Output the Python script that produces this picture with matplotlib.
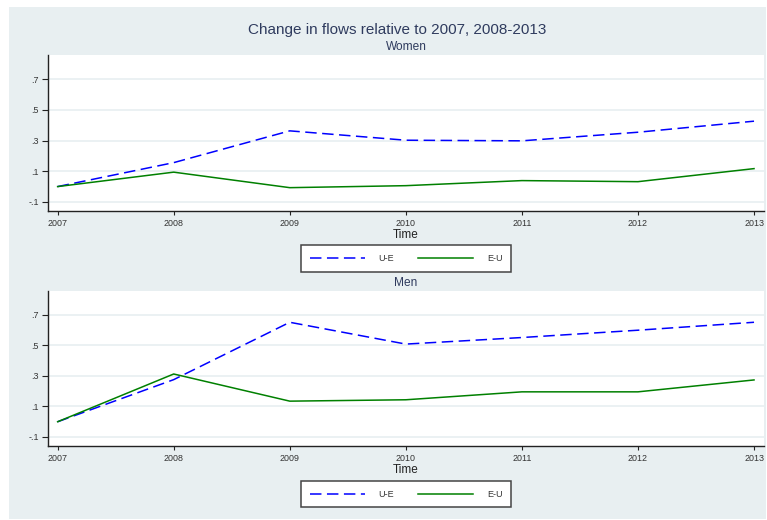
import matplotlib
matplotlib.use("Agg")
import matplotlib.pyplot as plt
from matplotlib.patches import Rectangle

plt.rcParams['font.family'] = ['Liberation Sans', 'DejaVu Sans']

# Data: change in flows relative to 2007
years = [2007, 2008, 2009, 2010, 2011, 2012, 2013]
women_ue = [0.0, 0.156, 0.363, 0.302, 0.298, 0.354, 0.426]
women_eu = [0.0, 0.094, -0.007, 0.006, 0.039, 0.032, 0.117]
men_ue = [0.0, 0.276, 0.652, 0.509, 0.552, 0.600, 0.652]
men_eu = [0.0, 0.313, 0.135, 0.144, 0.196, 0.196, 0.274]
yticks = [-0.1, 0.1, 0.3, 0.5, 0.7]
ytick_labels = ['-.1', '.1', '.3', '.5', '.7']
series_labels = ['U-E', 'E-U']
panel_titles = ['Women', 'Men']
title = 'Change in flows relative to 2007, 2008-2013'

W, H = 767, 520
fig = plt.figure(figsize=(W / 100, H / 100), dpi=100, facecolor='white')

BG = '#e8eff1'
GRID = '#e6eef0'
TXT = '#333333'
NAVY = '#2f3b5e'
BLUE = '#0000ff'
GREEN = '#008000'


def fx(px):
    return px / W


def fy(py):
    return 1 - py / H


# graph region background
fig.patches.append(Rectangle((fx(9), fy(519)), fx(766) - fx(9), fy(7) - fy(519),
                             transform=fig.transFigure, facecolor=BG,
                             edgecolor='none', zorder=-10))

fig.text(fx(397.5), fy(30), title, ha='center', va='center', fontsize=11.0,
         color=NAVY)

panels = [
    dict(top=55, bottom=211, ue=women_ue, eu=women_eu, sub_y=47,
         time_y=235, leg_y=258.5),
    dict(top=291, bottom=446, ue=men_ue, eu=men_eu, sub_y=283.5,
         time_y=470, leg_y=494.3),
]

left_px, right_px = 48, 764
for p, name in zip(panels, panel_titles):
    ax = fig.add_axes([fx(left_px), fy(p['bottom']), fx(right_px) - fx(left_px),
                       fy(p['top']) - fy(p['bottom'])])
    ax.set_facecolor('white')
    ax.set_xlim(2006.917, 2013.086)
    ax.set_ylim(-0.159, 0.857)
    for y in yticks:
        ax.axhline(y, color=GRID, lw=1.1, zorder=1)
    l_ue, = ax.plot(years, p['ue'], color=BLUE, lw=1.1, zorder=3,
                    label=series_labels[0])
    l_ue.set_dashes((7.5, 3.6))
    l_eu, = ax.plot(years, p['eu'], color=GREEN, lw=1.1, zorder=3,
                    label=series_labels[1])

    ax.set_yticks(yticks)
    ax.set_yticklabels(ytick_labels)
    ax.set_xticks(years)
    ax.set_xticklabels([str(y) for y in years])
    ax.tick_params(axis='y', length=4.5, width=0.8, pad=2, labelsize=6.4,
                   colors='#222222', labelcolor=TXT)
    ax.tick_params(axis='x', length=3.2, width=0.8, pad=2.6, labelsize=6.4,
                   colors='#222222', labelcolor=TXT)
    for s in ['top', 'right']:
        ax.spines[s].set_visible(False)
    for s in ['left', 'bottom']:
        ax.spines[s].set_color('#222222')
        ax.spines[s].set_linewidth(1.0)

    fig.text(fx(406), fy(p['sub_y']), name, ha='center', va='center',
             fontsize=8.6, color=NAVY)
    fig.text(fx(406), fy(p['time_y']), 'Time', ha='center', va='center',
             fontsize=8.5, color='#222222')

    leg = fig.legend(handles=[l_ue, l_eu], labels=series_labels, ncol=2,
                     loc='center', bbox_to_anchor=(fx(406), fy(p['leg_y'])),
                     bbox_transform=fig.transFigure, fontsize=6.5,
                     handlelength=6.1, handletextpad=1.55, columnspacing=2.6,
                     borderpad=0.95, fancybox=False, framealpha=1,
                     edgecolor='#444444', facecolor='white')
    for t in leg.get_texts():
        t.set_color(TXT)
    leg.get_frame().set_linewidth(1.1)

fig.savefig('out.png', dpi=100, facecolor='white')
